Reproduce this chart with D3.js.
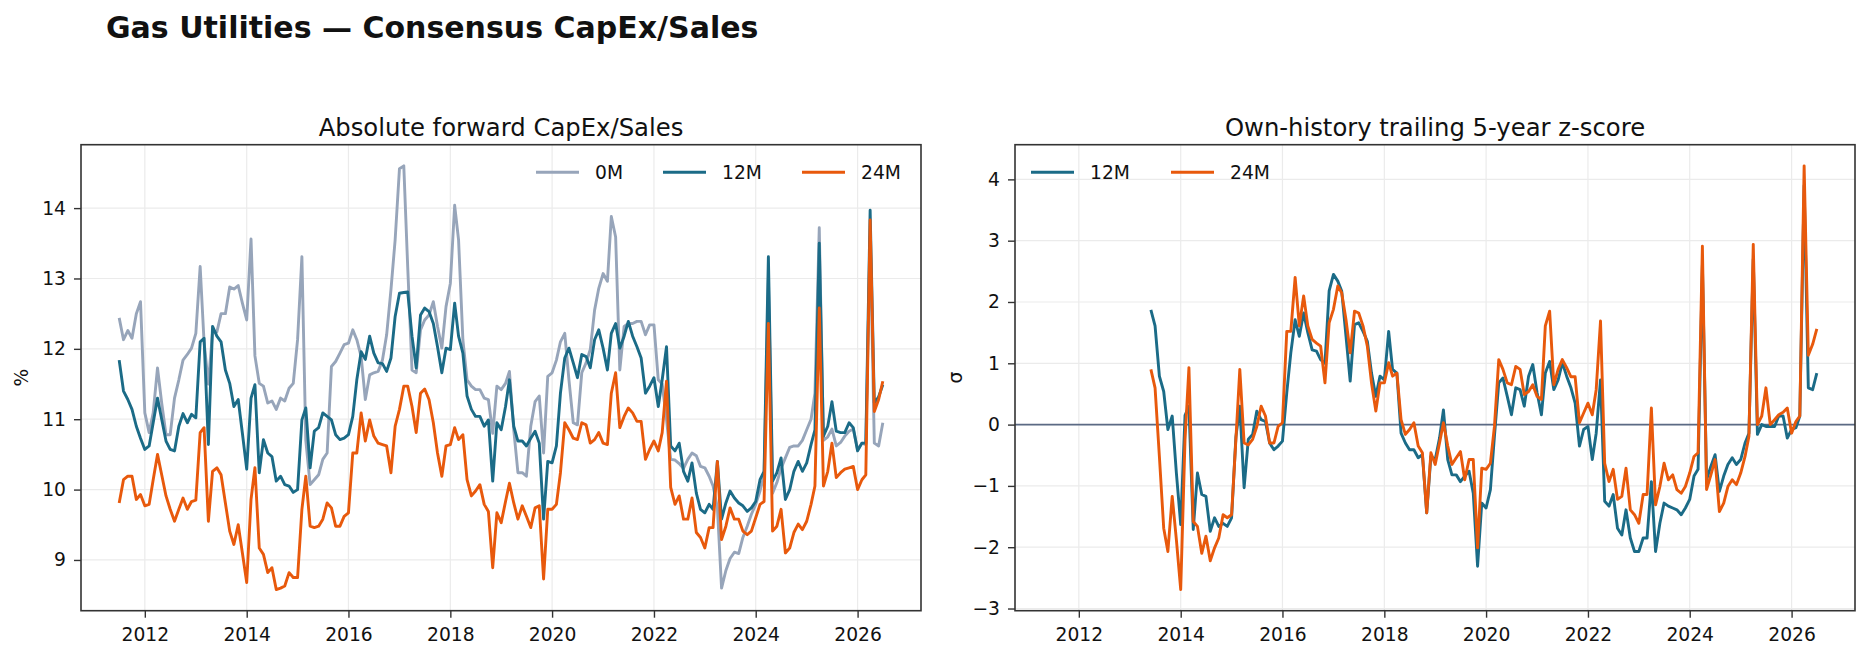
<!DOCTYPE html>
<html>
<head>
<meta charset="utf-8">
<script src="https://cdn.jsdelivr.net/npm/d3@7"></script>
<style>
    body { margin: 0; background: #fff; }
    svg text { font-family: "DejaVu Sans", sans-serif; fill: #111; }
</style>
</head>
<body>
<div id="chart"></div>
<script>
// monthly observations, Jul 2011 .. Jul 2026
const startMonth = "2011-07";
const nMonths = 181;
const xTickYears = [2012, 2014, 2016, 2018, 2020, 2022, 2024, 2026];

// absolute forward CapEx/Sales (%)
const capex0M = [12.44,12.13,12.26,12.15,12.5,12.67,11.09,10.81,11.09,11.73,11.23,10.78,10.78,11.3,11.56,11.84,11.92,12.01,12.22,13.17,
    12.1,11.5,12.24,12.24,12.5,12.5,12.88,12.85,12.9,12.65,12.41,13.56,11.9,11.51,11.47,11.23,11.26,11.14,11.3,11.26,
    11.44,11.51,12.13,13.31,10.7,10.07,10.14,10.21,10.43,10.52,11.75,11.82,11.94,12.06,12.08,12.27,12.13,11.89,11.28,11.63,
    11.66,11.68,11.84,12.2,12.84,13.55,14.56,14.6,13.17,11.7,11.66,12.27,12.41,12.48,12.67,12.32,12.01,12.6,12.93,14.04,
    13.55,12.13,11.56,11.47,11.42,11.42,11.3,11.28,10.8,11.47,11.42,11.51,11.68,10.85,10.24,10.24,10.19,10.9,11.25,11.33,
    10.52,11.61,11.66,11.84,12.1,12.22,11.56,10.95,10.92,11.66,11.8,11.99,12.55,12.86,13.07,12.96,13.88,13.59,11.7,12.32,
    12.36,12.36,12.39,12.39,12.2,12.34,12.34,11.56,11.5,11.0,10.43,10.42,10.37,10.3,10.43,10.52,10.48,10.33,10.31,10.19,
    10.05,9.75,8.6,8.85,9.02,9.11,9.09,9.32,9.48,9.65,9.79,9.98,10.2,13.0,9.95,10.1,10.3,10.45,10.6,10.62,
    10.62,10.7,10.85,11.0,11.37,13.72,10.7,10.75,10.86,10.62,10.67,10.76,10.83,10.86,10.57,10.66,10.64,13.6,10.66,10.62,
    10.95];
const capex12M = [11.84,11.4,11.28,11.14,10.9,10.73,10.57,10.62,10.95,11.3,11.0,10.69,10.57,10.55,10.9,11.08,10.95,11.07,11.02,12.1,
    12.15,10.64,12.32,12.18,12.1,11.7,11.51,11.18,11.28,10.8,10.29,11.3,11.49,10.24,10.71,10.52,10.47,10.12,10.19,10.07,
    10.05,9.96,10.0,10.99,11.16,10.31,10.83,10.88,11.09,11.04,10.99,10.78,10.71,10.73,10.78,11.04,11.56,11.96,11.85,12.18,
    11.94,11.8,11.79,11.68,11.87,12.46,12.79,12.8,12.81,12.18,11.73,12.48,12.58,12.53,12.36,12.03,11.66,12.01,11.99,12.65,
    12.18,11.94,11.33,11.14,11.04,11.04,10.9,10.99,10.12,10.95,10.85,11.18,11.56,10.9,10.69,10.69,10.62,10.73,10.83,10.66,
    9.58,10.4,10.38,10.62,11.37,11.87,12.01,11.8,11.59,11.92,11.89,11.73,12.13,12.27,12.01,11.7,12.22,12.36,12.01,12.18,
    12.39,12.18,12.03,11.87,11.37,11.47,11.59,11.18,11.56,12.03,10.62,10.55,10.66,10.26,10.12,10.38,9.95,9.72,9.67,9.79,
    9.72,10.4,9.58,9.81,9.98,9.88,9.81,9.77,9.69,9.74,9.83,10.14,10.26,13.31,10.12,10.24,10.45,9.86,10.0,10.26,
    10.4,10.26,10.38,10.64,10.85,13.5,10.76,10.9,11.25,10.83,10.81,10.81,10.95,10.88,10.55,10.66,10.66,13.97,11.23,11.32,
    11.49];
const capex24M = [9.81,10.14,10.19,10.19,9.86,9.93,9.77,9.79,10.14,10.5,10.21,9.91,9.72,9.55,9.72,9.88,9.72,9.83,9.85,10.81,
    10.88,9.55,10.26,10.31,10.21,9.81,9.41,9.22,9.5,9.1,8.68,9.86,10.31,9.17,9.08,8.82,8.89,8.58,8.6,8.63,
    8.82,8.75,8.75,9.72,10.19,9.48,9.46,9.48,9.58,9.81,9.74,9.48,9.48,9.62,9.67,10.52,10.52,11.09,10.69,10.99,
    10.76,10.66,10.64,10.62,10.24,10.9,11.14,11.47,11.47,11.18,10.81,11.37,11.43,11.28,10.95,10.52,10.19,10.62,10.64,10.88,
    10.71,10.78,10.14,9.91,9.98,10.07,9.79,9.69,8.89,9.67,9.53,9.83,10.09,9.81,9.58,9.77,9.62,9.46,9.74,9.77,
    8.73,9.72,9.72,9.79,10.24,10.95,10.85,10.73,10.71,10.95,10.92,10.66,10.71,10.81,10.66,10.64,11.37,11.66,10.88,11.04,
    11.16,11.09,10.97,10.97,10.43,10.57,10.69,10.55,10.81,11.54,10.03,9.79,9.91,9.58,9.58,9.88,9.39,9.32,9.17,9.46,
    9.46,10.4,9.29,9.48,9.74,9.58,9.58,9.41,9.36,9.41,9.6,9.79,9.83,12.36,9.41,9.48,9.72,9.1,9.17,9.39,
    9.51,9.43,9.55,9.79,10.05,12.58,10.05,10.26,10.66,10.17,10.24,10.29,10.31,10.33,10.0,10.14,10.21,13.83,11.11,11.28,
    11.54];

// trailing 5-year z-score (sigma); first 23 months have no value
const zLead = 23;
const z12M = [1.87,1.61,0.79,0.54,-0.08,0.14,-0.79,-1.63,0.15,0.3,-1.71,-0.79,-1.14,-1.17,-1.74,-1.52,-1.66,-1.61,-1.66,-1.52,
    -0.2,0.3,-1.03,-0.24,-0.16,0.22,0.08,0.05,-0.3,-0.41,-0.35,-0.27,0.52,1.17,1.71,1.44,1.82,1.5,1.22,1.2,
    1.06,1.0,2.18,2.45,2.34,2.18,1.44,0.71,1.63,1.66,1.52,1.36,0.84,0.46,0.79,0.73,1.52,0.9,0.84,-0.14,
    -0.3,-0.41,-0.41,-0.54,-0.49,-1.44,-0.52,-0.57,-0.22,0.24,-0.57,-0.82,-0.82,-0.93,-0.84,-0.76,-1.12,-2.31,-1.28,-1.36,
    -1.06,-0.19,0.68,0.76,0.46,0.16,0.6,0.57,0.3,0.79,0.98,0.52,0.16,0.84,1.03,0.57,0.73,1.01,0.79,0.6,
    0.35,-0.35,-0.08,-0.03,-0.57,-0.14,0.73,-1.25,-1.33,-1.14,-1.69,-1.8,-1.39,-1.85,-2.07,-2.07,-1.85,-1.85,-0.93,-2.07,
    -1.61,-1.28,-1.33,-1.36,-1.39,-1.47,-1.36,-1.22,-0.84,-0.73,2.6,-0.9,-0.68,-0.49,-1.09,-0.84,-0.65,-0.54,-0.65,-0.57,
    -0.3,-0.14,2.7,-0.16,0.0,-0.03,-0.03,-0.03,0.14,0.14,-0.22,-0.08,-0.05,0.14,3.9,0.6,0.57,0.84];
const z24M = [0.9,0.6,-0.52,-1.69,-2.07,-1.17,-1.88,-2.69,-0.24,0.93,-1.58,-1.66,-2.1,-1.82,-2.22,-2.01,-1.85,-1.47,-1.52,-1.47,
    -0.24,0.9,-0.3,-0.33,-0.24,-0.03,0.3,0.14,-0.3,-0.3,-0.03,0.03,1.52,1.52,2.4,1.61,2.1,1.61,1.39,1.33,
    1.28,0.68,1.66,1.88,2.26,2.15,1.71,1.17,1.85,1.82,1.61,1.28,0.68,0.22,0.68,0.68,1.01,0.79,0.84,0.08,
    -0.16,-0.08,0.03,-0.35,-0.46,-1.44,-0.46,-0.65,-0.3,0.03,-0.35,-0.65,-0.54,-0.44,-0.9,-0.57,-0.57,-2.01,-0.71,-0.73,
    -0.63,-0.03,1.06,0.9,0.68,0.65,0.95,0.9,0.49,0.54,0.65,0.46,0.41,1.61,1.85,0.65,0.9,1.06,0.93,0.78,
    0.78,0.03,0.19,0.35,0.16,0.57,1.69,-0.63,-0.93,-0.73,-1.22,-1.17,-0.71,-1.39,-1.47,-1.61,-1.14,-1.14,0.27,-1.31,
    -1.01,-0.63,-0.9,-0.82,-1.06,-1.12,-1.01,-0.79,-0.52,-0.46,2.91,-1.06,-0.82,-0.57,-1.42,-1.28,-1.01,-0.9,-0.98,-0.79,
    -0.52,-0.19,2.94,0.0,0.14,0.6,0.0,0.08,0.16,0.2,0.27,-0.14,0.05,0.14,4.22,1.13,1.31,1.56];

const colors = {"0M": "#97a5ba", "12M": "#1b6b87", "24M": "#e8590c"};

class PanelPlot {
    constructor(svg, cfg) {
        this.svg = svg;
        this.cfg = cfg;
        this.initVis();
    }

    initVis() {
        let vis = this;
        let c = vis.cfg;
        vis.width = c.x1 - c.x0;
        vis.height = c.y1 - c.y0;
        vis.g = vis.svg.append("g").attr("transform", `translate(${c.x0},${c.y0})`);

        // scales with matplotlib-like 5% margins
        let dExt = d3.extent(c.dates);
        let dPad = (dExt[1] - dExt[0]) * 0.05;
        vis.x = d3.scaleTime()
            .domain([new Date(+dExt[0] - dPad), new Date(+dExt[1] + dPad)])
            .range([0, vis.width]);
        let all = c.series.flatMap(s => s.values).filter(v => v != null);
        let yMin = d3.min(all), yMax = d3.max(all), yPad = (yMax - yMin) * 0.05;
        vis.y = d3.scaleLinear().domain([yMin - yPad, yMax + yPad]).range([vis.height, 0]);

        let xTicks = xTickYears.map(y => new Date(y, 0, 1));

        // grid
        vis.g.append("g").selectAll("line.gx").data(xTicks).enter().append("line")
            .attr("x1", d => vis.x(d)).attr("x2", d => vis.x(d))
            .attr("y1", 0).attr("y2", vis.height)
            .attr("stroke", "#ebebeb").attr("stroke-width", 1.2);
        vis.g.append("g").selectAll("line.gy").data(c.yTicks).enter().append("line")
            .attr("x1", 0).attr("x2", vis.width)
            .attr("y1", d => vis.y(d)).attr("y2", d => vis.y(d))
            .attr("stroke", "#ebebeb").attr("stroke-width", 1.2);

        // axes
        vis.xAxis = vis.g.append("g")
            .attr("transform", `translate(0,${vis.height})`)
            .call(d3.axisBottom(vis.x).tickValues(xTicks).tickFormat(d3.timeFormat("%Y"))
                .tickSize(7).tickPadding(10));
        vis.yAxis = vis.g.append("g")
            .call(d3.axisLeft(vis.y).tickValues(c.yTicks).tickFormat(d => d < 0 ? "\u2212" + Math.abs(d) : d)
                .tickSize(7).tickPadding(8));
        [vis.xAxis, vis.yAxis].forEach(a => {
            a.select(".domain").remove();
            a.selectAll(".tick line").attr("stroke", "#333").attr("stroke-width", 1.4);
            a.selectAll(".tick text").attr("font-size", "18.7px").attr("fill", "#111")
                .style("font-family", '"DejaVu Sans", sans-serif');
        });

        // zero reference
        if (c.zeroLine) {
            vis.g.append("line")
                .attr("x1", 0).attr("x2", vis.width)
                .attr("y1", vis.y(0)).attr("y2", vis.y(0))
                .attr("stroke", "#5b6a84").attr("stroke-width", 1.7);
        }

        // clip for the series
        vis.g.append("clipPath").attr("id", c.id + "-clip")
            .append("rect").attr("width", vis.width).attr("height", vis.height);

        vis.drawLine = d3.line()
            .defined(d => d.v != null)
            .x(d => vis.x(d.date))
            .y(d => vis.y(d.v));

        vis.g.append("g").attr("clip-path", `url(#${c.id}-clip)`)
            .selectAll(".series")
            .data(c.series)
            .enter()
            .append("path")
            .attr("class", "series")
            .attr("fill", "none")
            .attr("stroke", s => colors[s.key])
            .attr("stroke-width", 2.9)
            .attr("stroke-linejoin", "round")
            .attr("d", s => vis.drawLine(s.values.map((v, i) => ({date: c.dates[i], v: v}))));

        // spines
        vis.g.append("rect")
            .attr("width", vis.width).attr("height", vis.height)
            .attr("fill", "none").attr("stroke", "#333").attr("stroke-width", 1.6);

        // title and y label
        vis.g.append("text")
            .attr("x", vis.width / 2).attr("y", -9)
            .attr("text-anchor", "middle")
            .attr("font-size", "24.3px")
            .text(c.title);
        vis.g.append("text")
            .attr("transform", `translate(${c.ylabelX},${vis.height / 2}) rotate(-90)`)
            .attr("text-anchor", "middle")
            .attr("font-size", "18.7px")
            .text(c.ylabel);

        // legend
        let leg = vis.g.append("g").attr("transform", `translate(${c.legendX},27.5)`);
        let items = leg.selectAll(".legend-item")
            .data(c.series)
            .enter()
            .append("g")
            .attr("class", "legend-item")
            .attr("transform", (s, i) => `translate(${c.legendOffsets[i]},0)`);
        items.append("line")
            .attr("x1", 0).attr("x2", 43)
            .attr("stroke", s => colors[s.key]).attr("stroke-width", 2.9);
        items.append("text")
            .attr("x", 59).attr("dy", "0.36em")
            .attr("font-size", "18.7px")
            .text(s => s.key);
    }
}

let dates = d3.range(nMonths).map(i => d3.timeMonth.offset(d3.timeParse("%Y-%m")(startMonth), i));
let lead = Array(zLead).fill(null);

let svg = d3.select("#chart").append("svg")
    .attr("width", 1869)
    .attr("height", 659);

svg.append("text")
    .attr("x", 106).attr("y", 38)
    .attr("font-size", "30px")
    .attr("font-weight", "bold")
    .text("Gas Utilities \u2014 Consensus CapEx/Sales");

new PanelPlot(svg, {
    id: "abs",
    x0: 81, x1: 921, y0: 144.7, y1: 610.7,
    dates: dates,
    series: [
        {key: "0M", values: capex0M},
        {key: "12M", values: capex12M},
        {key: "24M", values: capex24M}
    ],
    yTicks: [9, 10, 11, 12, 13, 14],
    title: "Absolute forward CapEx/Sales",
    ylabel: "%",
    ylabelX: -53,
    zeroLine: false,
    legendX: 455,
    legendOffsets: [0, 127, 266]
});

new PanelPlot(svg, {
    id: "z",
    x0: 1015, x1: 1855, y0: 144.7, y1: 610.7,
    dates: dates,
    series: [
        {key: "12M", values: lead.concat(z12M)},
        {key: "24M", values: lead.concat(z24M)}
    ],
    yTicks: [-3, -2, -1, 0, 1, 2, 3, 4],
    title: "Own-history trailing 5-year z-score",
    ylabel: "\u03c3",
    ylabelX: -53,
    zeroLine: true,
    legendX: 16,
    legendOffsets: [0, 140]
});
</script>
</body>
</html>
